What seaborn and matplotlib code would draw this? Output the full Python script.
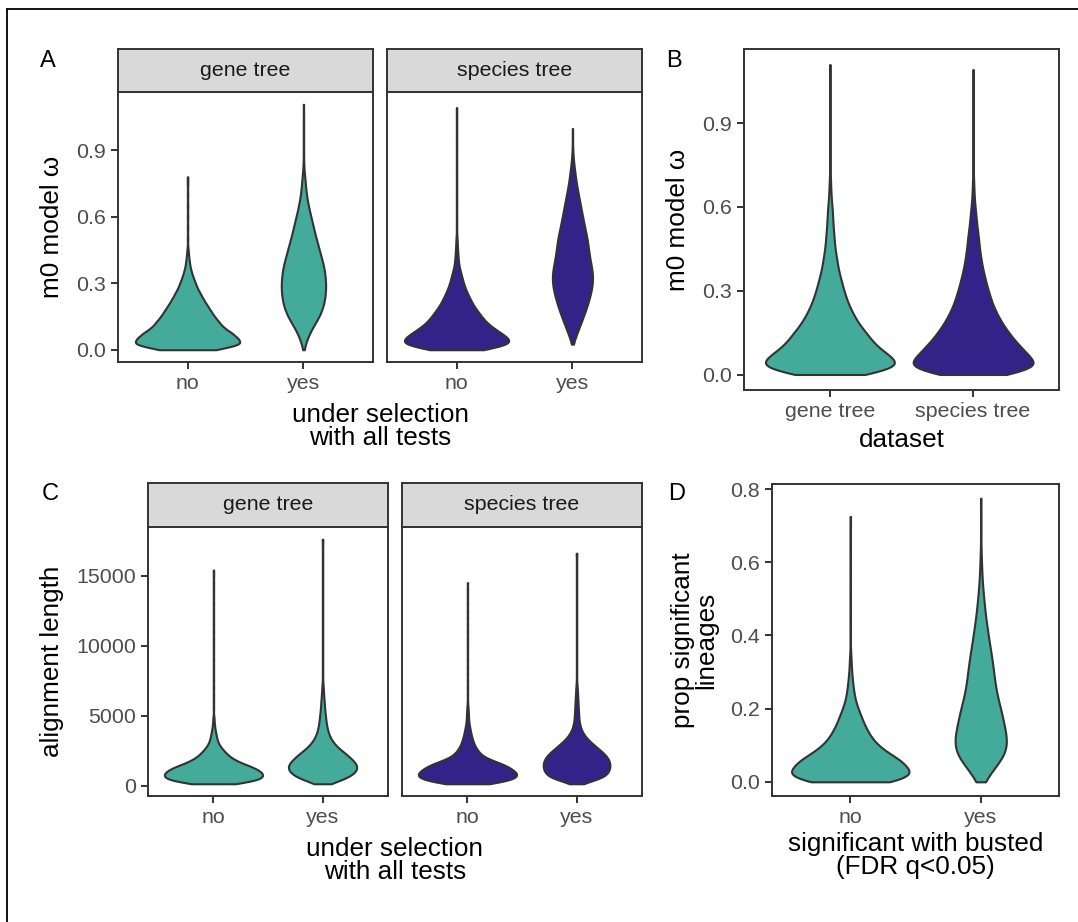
import numpy as np
import pandas as pd
import matplotlib
matplotlib.use("Agg")
import matplotlib.pyplot as plt
from matplotlib.lines import Line2D
import seaborn as sns

TEAL = "#44AA99"
INDIGO = "#332288"
TREES = ["gene tree", "species tree"]
GROUPS = ["no", "yes"]

# bin centres (value axis) and counts per bin read off each violin's width,
# plus the sparse observations in the long thin upper tails
OMEGA_BINS = [0.0, 0.025, 0.05, 0.075, 0.1, 0.125, 0.15, 0.175, 0.2, 0.225,
              0.25, 0.275, 0.3, 0.325, 0.35, 0.375, 0.4, 0.425, 0.45, 0.475,
              0.5, 0.525, 0.55, 0.575, 0.6, 0.625, 0.65, 0.675, 0.7, 0.725,
              0.75, 0.775, 0.8, 0.825, 0.85, 0.875, 0.9]
LENGTH_BINS = [125, 375, 625, 875, 1125, 1375, 1625, 1875, 2125, 2375, 2625,
               2875, 3125, 3375, 3625, 3875, 4125, 4375, 4625, 4875, 5125,
               5375, 5625, 5875, 6125, 6375, 6625, 6875, 7125]
PROP_BINS = [0.0, 0.02, 0.04, 0.06, 0.08, 0.1, 0.12, 0.14, 0.16, 0.18, 0.2,
             0.22, 0.24, 0.26, 0.28, 0.3, 0.32, 0.34, 0.36, 0.38, 0.4, 0.42,
             0.44, 0.46, 0.48, 0.5, 0.52, 0.54, 0.56, 0.58, 0.6, 0.62]

# panel A: m0 omega by selection, gene tree / species tree
a_gene_no = [80, 155, 142, 125, 100, 88, 75, 65, 55, 45, 37, 28, 22, 16, 11, 7, 5, 3, 2]
a_gene_no_tail = [0.5, 0.55, 0.6, 0.65, 0.7, 0.75, 0.78]
a_gene_yes = [1, 5, 10, 16, 24, 33, 42, 48, 53, 56, 58, 59, 59, 58, 56, 54, 50, 46,
              42, 38, 34, 30, 27, 23, 20, 16, 13, 10, 8, 6, 5, 4, 2, 1, 1]
a_gene_yes_tail = [0.9, 0.95, 1.0, 1.05, 1.107]
a_sp_no = [70, 155, 143, 122, 98, 80, 68, 57, 46, 38, 31, 24, 19, 15, 11, 7, 5, 4, 3, 2, 2]
a_sp_no_tail = [0.55, 0.6, 0.65, 0.7, 0.75, 0.8, 0.85, 0.9, 0.95, 1.0, 1.05, 1.092]
a_sp_yes = [0, 1, 7, 13, 19, 25, 31, 37, 42, 47, 51, 55, 57, 58, 57, 54, 51, 48, 46,
            44, 42, 39, 35, 32, 29, 26, 23, 20, 17, 14, 11, 9, 7, 5, 3, 2]
a_sp_yes_tail = [0.9, 0.95, 0.998]

# panel B: m0 omega by dataset
b_gene = [95, 190, 180, 155, 128, 112, 98, 82, 70, 60, 51, 44, 38, 33, 28, 23, 20,
          17, 14, 12, 11, 9, 8, 7, 6, 4, 3, 2, 2]
b_gene_tail = [0.75, 0.8, 0.85, 0.9, 0.95, 1.0, 1.05, 1.11]
b_sp = [100, 193, 180, 158, 140, 120, 105, 90, 78, 67, 58, 51, 45, 39, 34, 29, 25,
        22, 19, 17, 15, 12, 10, 8, 6, 4, 3, 2, 2]
b_sp_tail = [0.75, 0.8, 0.85, 0.9, 0.95, 1.0, 1.05, 1.092]

# panel C: alignment length by selection
c_gene_no = [65, 130, 148, 146, 133, 110, 82, 60, 46, 35, 26, 18, 13, 10, 8, 6, 4, 3, 2, 2]
c_gene_no_tail = [5500, 6000, 6500, 7000, 7500, 8000, 8500, 9000, 9500, 10000, 10500,
                  11000, 11500, 12000, 12500, 13000, 13500, 14000, 14500, 15000, 15400]
c_gene_yes = [18, 48, 70, 83, 90, 92, 86, 77, 67, 56, 44, 34, 27, 21, 17, 14, 12, 10,
              9, 8, 7, 6, 5, 5, 4, 3, 3, 2, 2]
c_gene_yes_tail = [7500, 8000, 8500, 9000, 9500, 10000, 10500, 11000, 11500, 12000,
                   12500, 13000, 13500, 14000, 14500, 15000, 15500, 16000, 16500,
                   17000, 17500, 17600]
c_sp_no = [65, 122, 145, 145, 133, 117, 93, 65, 45, 34, 27, 21, 17, 14, 11, 9, 7, 5,
           4, 3, 3, 2, 2]
c_sp_no_tail = [6000, 6500, 7000, 7500, 8000, 8500, 9000, 9500, 10000, 10500, 11000,
                11500, 12000, 12500, 13000, 13500, 14000, 14500]
c_sp_yes = [12, 50, 76, 85, 90, 92, 91, 88, 81, 72, 60, 49, 38, 28, 21, 15, 11, 9, 7,
            6, 6, 5, 5, 4, 4, 3, 3, 2, 2]
c_sp_yes_tail = [7500, 8000, 8500, 9000, 9500, 10000, 10500, 11000, 11500, 12000,
                 12500, 13000, 13500, 14000, 14500, 15000, 15500, 16000, 16500, 16600]

# panel D: proportion of significant lineages by busted result
d_no = [125, 175, 160, 140, 105, 78, 60, 48, 38, 30, 22, 15, 11, 8, 6, 4, 3, 2, 1]
d_no_tail = [0.4, 0.45, 0.5, 0.55, 0.6, 0.65, 0.7, 0.725]
d_yes = [12, 25, 42, 60, 73, 77, 76, 72, 67, 63, 58, 52, 47, 43, 40, 38, 35, 32, 29,
         25, 22, 19, 16, 13, 11, 9, 7, 5, 4, 3, 2, 2]
d_yes_tail = [0.65, 0.7, 0.75, 0.775]

W, H = 1078, 922
GREY_LINE = "#333333"
TICK_SIZE = 15.4
TITLE_SIZE = 18.8


def expand(bins, counts, tail):
    vals = np.repeat(np.array(bins[:len(counts)], dtype=float), counts)
    return np.concatenate([vals, np.array(tail, dtype=float)])


def frame(col, parts):
    rows = []
    for label, vals in parts:
        rows.append(pd.DataFrame({"group": label, col: vals}))
    return pd.concat(rows, ignore_index=True)


def box(l, t, r, b):
    return [l / W, 1 - b / H, (r - l) / W, (b - t) / H]


def draw_violins(ax, df, col, order, colors, bw):
    sns.violinplot(data=df, x="group", y=col, hue="group", order=order,
                   hue_order=order, palette=colors, legend=False, cut=0,
                   inner=None, width=0.9, bw_adjust=bw, density_norm="area",
                   common_norm=True, saturation=1, linewidth=1.5,
                   linecolor=GREY_LINE, gridsize=300, ax=ax)
    ax.set_xlim(-0.6, 1.6)
    ax.set_xlabel("")
    ax.set_ylabel("")


def style(ax, yticks=None, ylabels=None):
    for s in ax.spines.values():
        s.set_visible(True)
        s.set_color(GREY_LINE)
        s.set_linewidth(1.4)
    ax.tick_params(colors=GREY_LINE, labelcolor="#4D4D4D", labelsize=TICK_SIZE,
                   length=5, width=1.4, pad=3.5, bottom=True, left=True)
    if yticks is None:
        ax.set_yticks([])
    else:
        ax.set_yticks(yticks)
        ax.set_yticklabels(ylabels)


def strip(fig, rect, text):
    s = fig.add_axes(rect)
    s.set_facecolor("#D9D9D9")
    s.set_xticks([])
    s.set_yticks([])
    for sp in s.spines.values():
        sp.set_color(GREY_LINE)
        sp.set_linewidth(1.4)
    s.text(0.5, 0.5, text, ha="center", va="center", fontsize=TICK_SIZE,
           color="#1A1A1A", transform=s.transAxes)


def pad_lim(values):
    lo, hi = np.min(values), np.max(values)
    r = hi - lo
    return lo - 0.05 * r, hi + 0.05 * r


sns.set_theme(style="ticks")
plt.rcParams["font.family"] = ["Liberation Sans", "DejaVu Sans"]

fig = plt.figure(figsize=(W / 100, H / 100), dpi=100)

# ---- panel A
a_gene = frame("omega", [("no", expand(OMEGA_BINS, a_gene_no, a_gene_no_tail)),
                         ("yes", expand(OMEGA_BINS, a_gene_yes, a_gene_yes_tail))])
a_sp = frame("omega", [("no", expand(OMEGA_BINS, a_sp_no, a_sp_no_tail)),
                       ("yes", expand(OMEGA_BINS, a_sp_yes, a_sp_yes_tail))])
a_lim = pad_lim(np.concatenate([a_gene["omega"], a_sp["omega"]]))
omega_ticks = [0.0, 0.3, 0.6, 0.9]
omega_labels = ["0.0", "0.3", "0.6", "0.9"]

ax = fig.add_axes(box(118, 92, 373, 362))
draw_violins(ax, a_gene, "omega", GROUPS, [TEAL, TEAL], 0.6)
ax.set_ylim(*a_lim)
style(ax, omega_ticks, omega_labels)
ax.set_ylabel("m0 model ω", fontsize=TITLE_SIZE, color="black", labelpad=9)
strip(fig, box(118, 49, 373, 92), TREES[0])

ax = fig.add_axes(box(387, 92, 642, 362))
draw_violins(ax, a_sp, "omega", GROUPS, [INDIGO, INDIGO], 0.6)
ax.set_ylim(*a_lim)
style(ax)
strip(fig, box(387, 49, 642, 92), TREES[1])
fig.text(380 / W, 1 - 403 / H, "under selection\nwith all tests", ha="center",
         va="top", fontsize=TITLE_SIZE, color="black", linespacing=0.95)

# ---- panel B
b_df = frame("omega", [(TREES[0], expand(OMEGA_BINS, b_gene, b_gene_tail)),
                       (TREES[1], expand(OMEGA_BINS, b_sp, b_sp_tail))])
ax = fig.add_axes(box(744, 49, 1059, 390))
draw_violins(ax, b_df, "omega", TREES, [TEAL, INDIGO], 0.6)
ax.set_ylim(*pad_lim(b_df["omega"]))
style(ax, omega_ticks, omega_labels)
ax.set_ylabel("m0 model ω", fontsize=TITLE_SIZE, color="black", labelpad=9)
ax.set_xlabel("dataset", fontsize=TITLE_SIZE, color="black", labelpad=5)

# ---- panel C
c_gene = frame("length", [("no", expand(LENGTH_BINS, c_gene_no, c_gene_no_tail)),
                          ("yes", expand(LENGTH_BINS, c_gene_yes, c_gene_yes_tail))])
c_sp = frame("length", [("no", expand(LENGTH_BINS, c_sp_no, c_sp_no_tail)),
                        ("yes", expand(LENGTH_BINS, c_sp_yes, c_sp_yes_tail))])
c_lim = pad_lim(np.concatenate([c_gene["length"], c_sp["length"]]))
len_ticks = [0, 5000, 10000, 15000]
len_labels = ["0", "5000", "10000", "15000"]

ax = fig.add_axes(box(148, 527, 388, 796))
draw_violins(ax, c_gene, "length", GROUPS, [TEAL, TEAL], 0.45)
ax.set_ylim(*c_lim)
style(ax, len_ticks, len_labels)
ax.set_ylabel("alignment length", fontsize=TITLE_SIZE, color="black", labelpad=9)
strip(fig, box(148, 483, 388, 527), TREES[0])

ax = fig.add_axes(box(402, 527, 642, 796))
draw_violins(ax, c_sp, "length", GROUPS, [INDIGO, INDIGO], 0.45)
ax.set_ylim(*c_lim)
style(ax)
strip(fig, box(402, 483, 642, 527), TREES[1])
fig.text(395 / W, 1 - 837 / H, "under selection\nwith all tests", ha="center",
         va="top", fontsize=TITLE_SIZE, color="black", linespacing=0.95)

# ---- panel D
d_df = frame("prop", [("no", expand(PROP_BINS, d_no, d_no_tail)),
                      ("yes", expand(PROP_BINS, d_yes, d_yes_tail))])
ax = fig.add_axes(box(772, 484, 1059, 796))
draw_violins(ax, d_df, "prop", GROUPS, [TEAL, TEAL], 0.7)
ax.set_ylim(*pad_lim(d_df["prop"]))
style(ax, [0.0, 0.2, 0.4, 0.6, 0.8], ["0.0", "0.2", "0.4", "0.6", "0.8"])
ax.set_ylabel("prop significant\nlineages", fontsize=TITLE_SIZE, color="black",
              labelpad=9, linespacing=0.95)
ax.set_xlabel("significant with busted\n(FDR q<0.05)", fontsize=TITLE_SIZE,
              color="black", labelpad=4, linespacing=0.95)

# panel letters
for x, y, letter in [(40, 67, "A"), (666, 67, "B"), (42, 500, "C"), (668, 500, "D")]:
    fig.text(x / W, 1 - y / H, letter, fontsize=17, color="black", va="baseline")

# outer frame (top and left edges)
fig.add_artist(Line2D([7 / W, 1], [1 - 9.5 / H, 1 - 9.5 / H], color="black", lw=1.3))
fig.add_artist(Line2D([7 / W, 7 / W], [0, 1 - 9.5 / H], color="black", lw=1.3))

fig.savefig("out.png", dpi=100, facecolor="white")
